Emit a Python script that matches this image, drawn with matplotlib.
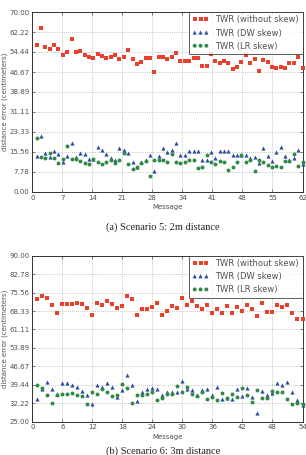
import matplotlib
matplotlib.use("Agg")
import matplotlib.pyplot as plt
import numpy as np

# ---- Scenario 5 (2m) ----
s5_msgs = list(range(1, 63))
s5_without = [57.0, 63.6, 56.3, 55.5, 57.2, 55.7, 53.4, 54.4, 59.5, 54.6,
              54.9, 53.1, 52.6, 52.1, 53.8, 53.0, 52.1, 52.6, 53.4, 51.6,
              52.6, 55.2, 51.7, 49.6, 50.7, 52.1, 52.2, 46.5, 52.4, 52.4,
              51.6, 52.4, 54.2, 51.1, 50.8, 51.1, 52.1, 52.1, 49.1, 49.1,
              53.7, 50.8, 50.3, 51.1, 50.3, 47.7, 48.6, 50.5, 53.4, 50.2,
              51.7, 47.0, 51.2, 50.5, 48.6, 48.1, 48.5, 48.1, 50.2, 50.2,
              52.4, 48.3]
s5_dw = [14.0, 21.7, 15.0, 13.7, 15.8, 14.8, 11.8, 14.0, 18.9, 13.7,
         15.0, 14.7, 13.0, 12.8, 17.4, 16.2, 14.9, 13.1, 12.6, 17.0,
         16.3, 15.3, 11.8, 9.9, 11.7, 12.6, 14.5, 8.0, 13.9, 17.2,
         15.7, 16.2, 19.1, 14.3, 14.3, 16.1, 16.1, 15.8, 12.6, 12.6,
         15.4, 13.2, 15.9, 15.9, 15.9, 14.3, 14.5, 14.5, 14.5, 13.2,
         13.6, 11.3, 17.1, 13.9, 11.9, 15.4, 17.5, 14.1, 12.6, 13.2,
         16.5, 10.8]
s5_lr = [21.0, 13.7, 13.1, 15.0, 13.4, 11.4, 12.7, 18.0, 12.8, 13.0,
         12.1, 11.4, 10.9, 12.8, 11.7, 10.9, 11.7, 12.4, 11.4, 12.4,
         15.0, 10.9, 9.1, 9.8, 11.2, 12.1, 6.4, 12.3, 12.3, 12.3,
         11.5, 14.8, 11.5, 11.2, 11.7, 12.6, 12.6, 9.3, 9.7, 14.3,
         11.7, 10.9, 11.9, 11.5, 8.7, 9.6, 11.7, 14.5, 11.5, 12.6,
         8.2, 12.3, 11.7, 10.4, 9.7, 10.0, 9.7, 11.9, 11.9, 14.8,
         10.2, 11.5]

# ---- Scenario 6 (3m) ----
s6_msgs = list(range(1, 55))
s6_without = [73.1, 74.1, 73.3, 70.7, 67.4, 71.0, 71.0, 71.1, 71.6, 71.0,
              69.6, 66.8, 71.6, 70.6, 72.4, 71.0, 69.4, 70.4, 74.2, 72.9,
              66.6, 69.3, 69.3, 70.0, 71.5, 66.9, 68.5, 70.3, 69.6, 73.3,
              70.7, 72.4, 70.3, 69.0, 70.8, 67.7, 69.0, 67.4, 70.4, 67.7,
              70.0, 68.5, 70.7, 69.0, 66.5, 71.3, 67.8, 67.8, 70.8, 70.0,
              70.6, 67.4, 65.4, 65.4]
s6_dw = [33.7, 38.0, 40.6, 38.0, 36.0, 40.1, 40.1, 39.3, 38.5, 37.0,
         35.4, 31.8, 39.3, 38.6, 40.0, 38.6, 34.7, 37.3, 43.1, 39.4,
         33.0, 36.7, 38.0, 38.3, 38.0, 35.6, 36.7, 36.7, 36.7, 40.9,
         38.0, 37.6, 35.6, 37.3, 38.0, 35.4, 38.6, 33.8, 34.1, 33.8,
         37.7, 35.0, 38.1, 34.7, 28.4, 37.1, 35.5, 36.3, 40.0, 39.4,
         40.5, 36.7, 33.4, 31.4]
s6_lr = [39.3, 38.3, 35.5, 32.2, 35.6, 36.0, 36.0, 36.3, 35.6, 35.0,
         32.1, 36.7, 36.0, 38.0, 36.7, 35.1, 35.6, 39.6, 38.3, 32.3,
         35.4, 35.4, 36.0, 36.7, 33.4, 34.3, 36.0, 36.0, 38.9, 36.7,
         38.6, 36.0, 35.1, 36.7, 33.8, 34.7, 33.4, 36.4, 34.1, 36.0,
         34.7, 38.3, 35.4, 32.9, 37.6, 34.2, 34.2, 37.1, 36.8, 36.8,
         33.7, 32.1, 32.3, 32.0]

labels = ["TWR (without skew)", "TWR (DW skew)", "TWR (LR skew)"]
captions = ["(a) Scenario 5: 2m distance", "(b) Scenario 6: 3m distance"]
RED, BLUE, GREEN = "#e8402c", "#2b4c9e", "#2e8a45"
TXT = "#505050"

W, H = 306, 455
fig = plt.figure(figsize=(W / 100, H / 100), dpi=100)
fig.patch.set_facecolor("white")


def px_axes(x0, x1, ytop, ybot):
    return fig.add_axes([x0 / W, 1 - ybot / H, (x1 - x0) / W, (ybot - ytop) / H])


def draw(ax, x, a, b, c, xmax, ymin, ymax):
    ax.scatter(x, a, marker="s", s=8, color=RED, linewidths=0, label=labels[0], zorder=3, clip_on=False)
    ax.scatter(x, b, marker="^", s=9, color=BLUE, linewidths=0, label=labels[1], zorder=3, clip_on=False)
    ax.scatter(x, c, marker="o", s=8, color=GREEN, linewidths=0, label=labels[2], zorder=3, clip_on=False)
    ax.set_xlim(0, xmax)
    ax.set_ylim(ymin, ymax)
    xt = np.linspace(0, xmax, 10)
    ax.set_xticks(xt)
    ax.set_xticklabels([str(int(round(v))) for v in xt])
    yt = np.linspace(ymin, ymax, 10)
    ax.set_yticks(yt)
    ax.set_yticklabels(["%.2f" % v for v in yt])
    ax.grid(True, linestyle=(0, (1, 1.5)), color="#b5b5b5", linewidth=0.6)
    ax.set_axisbelow(True)
    ax.tick_params(direction="in", length=2.5, width=0.5, labelsize=5, colors=TXT,
                   top=True, right=True, pad=2)
    for sp in ax.spines.values():
        sp.set_color("#333333")
        sp.set_linewidth(0.7)
    ax.set_xlabel("Message", fontsize=5, color=TXT)
    ax.set_ylabel("distance error (centimeters)", fontsize=5, color=TXT)
    leg = ax.legend(loc="upper right", fontsize=6.0, scatterpoints=3, frameon=True,
                    fancybox=False, borderaxespad=0, handletextpad=0.8, labelspacing=0.5,
                    borderpad=0.4, handlelength=2.0, scatteryoffsets=[0.5])
    leg.get_frame().set_edgecolor("#333333")
    leg.get_frame().set_linewidth(0.7)
    leg.set_zorder(5)
    for t in leg.get_texts():
        t.set_color(TXT)


ax1 = px_axes(32.3, 302.5, 12, 192)
draw(ax1, s5_msgs, s5_without, s5_dw, s5_lr, 62, 0, 70)
ax1.xaxis.set_label_coords(0.5, -0.065)
ax1.yaxis.set_label_coords(-0.09, 0.5)

ax2 = px_axes(32.3, 302.5, 255.7, 421.7)
draw(ax2, s6_msgs, s6_without, s6_dw, s6_lr, 54, 25, 90)
ax2.xaxis.set_label_coords(0.5, -0.072)
ax2.yaxis.set_label_coords(-0.09, 0.5)

fig.text(163 / W, 1 - 227 / H, captions[0], ha="center", va="center",
         fontsize=7.5, family="Liberation Serif", color="#222222")
fig.text(163 / W, 1 - 451 / H, captions[1], ha="center", va="center",
         fontsize=7.5, family="Liberation Serif", color="#222222")

fig.savefig("out.png", dpi=100, facecolor="white")
